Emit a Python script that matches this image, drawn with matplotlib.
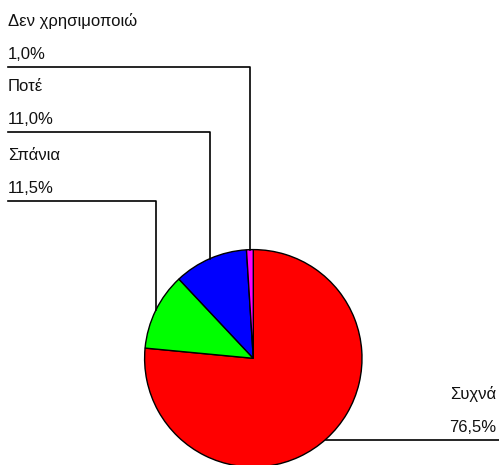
import matplotlib
matplotlib.use('Agg')
import matplotlib.pyplot as plt
import numpy as np

labels = ['Συχνά', 'Σπάνια', 'Ποτέ', 'Δεν χρησιμοποιώ']
values = [76.5, 11.5, 11.0, 1.0]
colors = ['#ff0000', '#00ff00', '#0000ff', '#ff00ff']

W, H = 499, 465
plt.rcParams['font.family'] = ['Liberation Sans', 'DejaVu Sans']

fig = plt.figure(figsize=(W / 100, H / 100), dpi=100)
ax = fig.add_axes([0, 0, 1, 1])

cx, cy, r = 253.3, H - 358.3, 108.7
wedges, _ = ax.pie(values, colors=colors, startangle=90, counterclock=False,
                   center=(cx, cy), radius=r, frame=True,
                   wedgeprops=dict(edgecolor='black', linewidth=1.0))
ax.set_xlim(0, W)
ax.set_ylim(0, H)
ax.set_aspect('equal')
ax.axis('off')

# left side labels: line heights (pixels from top) for Σπάνια, Ποτέ, Δεν χρησιμοποιώ
left_lines = {1: 201, 2: 132, 3: 66.7}
fs = 12

for i, w in enumerate(wedges):
    mid = np.deg2rad((w.theta1 + w.theta2) / 2)
    ex, ey = cx + r * np.cos(mid), cy + r * np.sin(mid)
    txt = f"{values[i]:.1f}".replace('.', ',') + '%'
    if i == 0:
        ly = H - 440
        ax.plot([ex, W], [ly, ly], color='black', lw=1.2, clip_on=False)
        ax.text(W - 3, ly + 41, labels[i], ha='right', va='baseline', fontsize=fs, color='#111111')
        ax.text(W - 3, ly + 8, txt, ha='right', va='baseline', fontsize=fs, color='#111111')
    else:
        ly = H - left_lines[i]
        ax.plot([ex, ex, 8], [ey, ly, ly], color='black', lw=1.2)
        ax.text(8, ly + 41, labels[i], ha='left', va='baseline', fontsize=fs, color='#111111')
        ax.text(8, ly + 8, txt, ha='left', va='baseline', fontsize=fs, color='#111111')

fig.savefig('out.png', dpi=100)
